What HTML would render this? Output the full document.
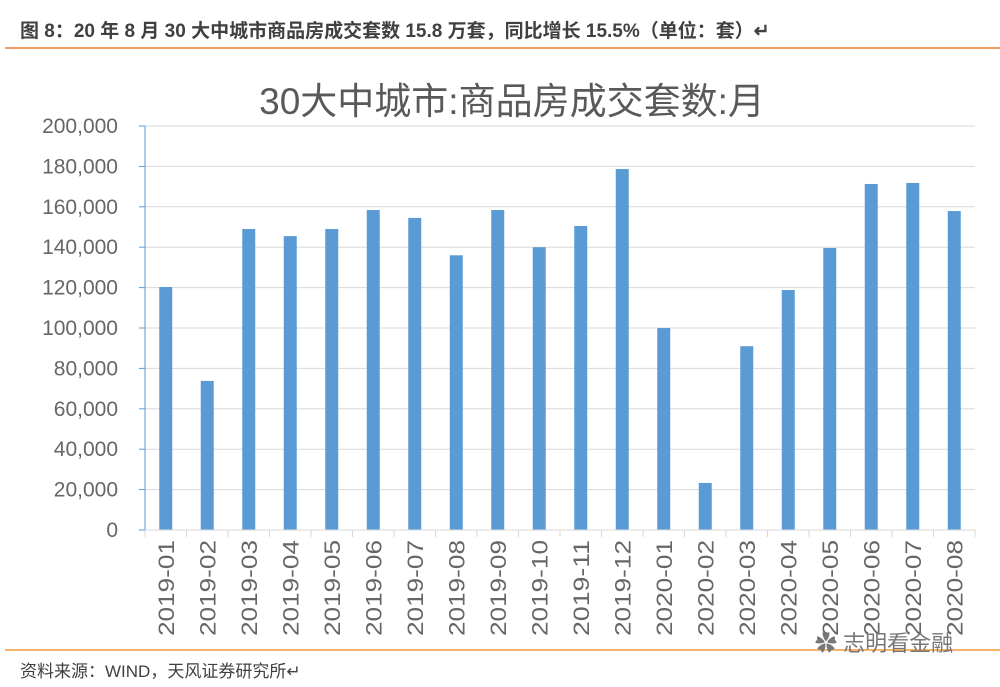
<!DOCTYPE html>
<html><head><meta charset="utf-8"><style>
body{margin:0;background:#fff;width:1000px;height:687px;overflow:hidden;font-family:"Liberation Sans","Noto Sans CJK SC",sans-serif}
</style></head><body>
<svg width="1000" height="687" xmlns="http://www.w3.org/2000/svg" style="position:absolute;left:0;top:0" font-family="Liberation Sans, Noto Sans CJK SC, sans-serif">
<text x="20" y="37" font-size="19" font-weight="bold" fill="#404040">图 8：20 年 8 月 30 大中城市商品房成交套数 15.8 万套，同比增长 15.5%（单位：套）↵</text>
<line x1="5" y1="48" x2="1000" y2="48" stroke="#ed7d31" stroke-width="1.5"/>
<text x="512" y="114" font-size="37" fill="#595959" text-anchor="middle">30大中城市:商品房成交套数:月</text>
<g id="grid"></g><g id="bars"></g><g id="axes"></g>
<line x1="5" y1="650" x2="1000" y2="650" stroke="#f39c3a" stroke-width="1.5"/>
<text x="20" y="677" font-size="17" fill="#404040">资料来源：WIND，天风证券研究所↵</text>
<text x="815" y="651" font-size="22" fill="#777">✿ 志明看金融</text>
</svg>
<script>
const categories=["2019-01","2019-02","2019-03","2019-04","2019-05","2019-06","2019-07","2019-08","2019-09","2019-10","2019-11","2019-12","2020-01","2020-02","2020-03","2020-04","2020-05","2020-06","2020-07","2020-08"];
const values=[120300,73800,149000,145500,149000,158400,154500,136000,158400,140000,150500,178700,100000,23300,91000,118800,139600,171300,171800,157900];
const yTicks=[0,20000,40000,60000,80000,100000,120000,140000,160000,180000,200000];
const NS="http://www.w3.org/2000/svg";
const X0=145,X1=975,Y0=530,Y1=126,YMAX=200000;
const y=v=>Y0-(v/YMAX)*(Y0-Y1);
const step=(X1-X0)/categories.length;
const xc=i=>X0+step*(i+0.5);
function mk(t,a,p,txt){const e=document.createElementNS(NS,t);for(const k in a)e.setAttribute(k,a[k]);if(txt!==undefined)e.textContent=txt;p.appendChild(e);return e;}
const grid=document.getElementById('grid'),bars=document.getElementById('bars'),axes=document.getElementById('axes');
yTicks.forEach(t=>{
  if(t>0){const g=mk('line',{x1:X0,x2:X1,y1:y(t),y2:y(t),stroke:'#d9d9d9','stroke-width':1},grid);
  
  }
  const tk=mk('line',{x1:X0-6,x2:X0,y1:y(t),y2:y(t),stroke:'#5b9bd5','stroke-width':1},axes);
  
  
  const l=mk('text',{x:118,y:y(t)+7,'font-size':21,fill:'#666','text-anchor':'end'},axes,t.toLocaleString('en-US'));
  
  
});
const ya=mk('line',{x1:X0,x2:X0,y1:Y1,y2:Y0,stroke:'#5b9bd5','stroke-width':1},axes);


const xa=mk('line',{x1:X0,x2:X1,y1:Y0,y2:Y0,stroke:'#d9d9d9','stroke-width':1},axes);


for(let i=0;i<=categories.length;i++){
  const t=mk('line',{x1:X0+step*i,x2:X0+step*i,y1:Y0,y2:Y0+7,stroke:'#d9d9d9','stroke-width':1},axes);
  
  
}
const bw=13;
values.forEach((v,i)=>{
  const r=mk('rect',{x:xc(i)-bw/2,y:y(v),width:bw,height:Y0-y(v),fill:'#5b9bd5'},bars);
  
  
});
categories.forEach((c,i)=>{
  const t=mk('text',{x:0,y:0,'font-size':22,fill:'#666','text-anchor':'end',textLength:96,lengthAdjust:'spacingAndGlyphs',transform:`translate(${xc(i)+8},540) rotate(-90)`},axes,c);
  
  
});
</script>
</body></html>
